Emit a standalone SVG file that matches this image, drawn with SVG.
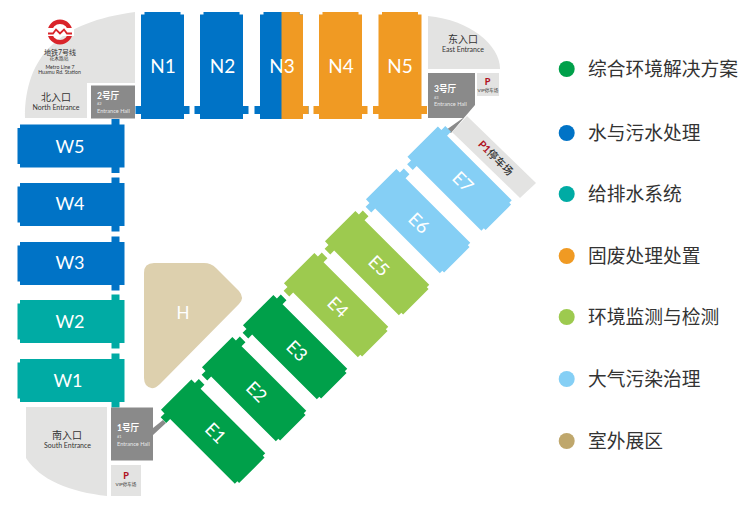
<svg xmlns="http://www.w3.org/2000/svg" width="750" height="509" viewBox="0 0 750 509">
<style>
text{font-family:"Lato","Noto Sans CJK SC",sans-serif;text-anchor:middle}
.lab{fill:#fff;font-size:18px;font-weight:400}
.g{fill:#00a04a}.b{fill:#0073c6}.t{fill:#00aba4}.o{fill:#f09a23}.l{fill:#9dca4f}.s{fill:#85cff5}.k{fill:#bfa76c}
.area{fill:#e3e3e2}.hall{fill:#8a8a8a}
.zh{fill:#333;font-size:10px}.en{fill:#333;font-size:7px}
.hz{fill:#fff;font-size:8.600px;font-weight:700;text-anchor:start}.he{fill:#e8e8e8;font-size:5.600px;text-anchor:start}
.leg{fill:#333;font-size:18.750px;text-anchor:start}
.p{fill:#b0121f;font-size:9px;font-weight:900}.vip{fill:#333;font-size:4.600px}
</style>
<defs>
<path id="hallShape" d="M-18-53.5H18V-51H21.5V40.5H27V48.5H21.5V53.5H-21.5V48.5H-27V40.5H-21.5V-51H-18Z"/>
<clipPath id="rightHalf"><rect x="281.5" y="0" width="40" height="130"/></clipPath>
</defs>
<g id="north-entrance">
<path class="area" d="M135 12V83H87V118H25C25 55 60 22 135 12Z"/>
<g id="metro-logo">
<circle cx="60" cy="32" r="10.300" fill="none" stroke="#d9242a" stroke-width="4.500"/>
<rect x="46" y="28" width="28" height="8" fill="#fff"/>
<path d="M48 33.500L53 33.500L56 29.500L60 33.500L64 29.500L67 33.500L72 33.500" fill="none" stroke="#d9242a" stroke-width="1.800"/>
</g>
<text x="60" y="54.500" style="font-size:7px" fill="#333">地铁7号线</text>
<text x="59" y="60" style="font-size:4.700px" fill="#333">花木路站</text>
<text x="60" y="68.500" style="font-size:5.200px" fill="#333">Metro Line 7</text>
<text x="59.500" y="74" style="font-size:5.200px" fill="#333">Huamu Rd. Station</text>
<text class="zh" x="56" y="101">北入口</text>
<text class="en" x="56" y="109.500">North Entrance</text>
</g>
<g id="hall-2">
<rect class="hall" x="91" y="85.500" width="44" height="33"/>
<text class="hz" x="97" y="99">2号厅</text>
<text class="he" x="97" y="105" style="font-size:4px">#2</text>
<text class="he" x="97" y="113">Entrance Hall</text>
</g>
<g id="N1" class="b"><use href="#hallShape" transform="translate(162.500 65.500)"/><text class="lab" style="font-size:19px" x="163" y="73">N1</text></g>
<g id="N2" class="b"><use href="#hallShape" transform="translate(221.500 65.500)"/><text class="lab" style="font-size:19px" x="222.500" y="73">N2</text></g>
<g id="N3"><use class="b" href="#hallShape" transform="translate(281.500 65.500)"/><g clip-path="url(#rightHalf)"><use class="o" href="#hallShape" transform="translate(281.500 65.500)"/></g><text class="lab" style="font-size:19px" x="282" y="73">N3</text></g>
<g id="N4" class="o"><use href="#hallShape" transform="translate(340.500 65.500)"/><text class="lab" style="font-size:19px" x="341" y="73">N4</text></g>
<g id="N5" class="o"><use href="#hallShape" transform="translate(400 65.500)"/><text class="lab" style="font-size:19px" x="400" y="73">N5</text></g>
<g id="east-entrance">
<path class="area" d="M428 16C470 20 500 45 500 69H428Z"/>
<text class="zh" x="463" y="43">东入口</text>
<text class="en" x="463" y="52">East Entrance</text>
</g>
<g id="hall-3">
<path class="hall" d="M428 73H475V105L451 133L446 130L463 118H428Z"/>
<text class="hz" x="434" y="92">3号厅</text>
<text class="he" x="434" y="98.500" style="font-size:4px">#3</text>
<text class="he" x="434" y="106">Entrance Hall</text>
</g>
<g id="vip-east">
<rect class="area" x="477" y="73" width="22" height="23"/>
<text class="p" x="487.500" y="85">P</text>
<text class="vip" x="488" y="91.500">VIP停车场</text>
</g>
<g id="parking-p1">
<path class="area" d="M467 116L536 183L520 198L452 132Z"/>
<text transform="translate(493 160.500) rotate(45)" style="font-size:10.500px;font-weight:500" fill="#333"><tspan fill="#b0121f" font-weight="700">P1</tspan>停车场</text>
</g>
<g id="W5" class="b"><use href="#hallShape" transform="translate(71 146) rotate(-90)"/><text class="lab" x="70" y="153">W5</text></g>
<g id="W4" class="b"><use href="#hallShape" transform="translate(71 204.500) rotate(-90)"/><text class="lab" x="70" y="210">W4</text></g>
<g id="W3" class="b"><use href="#hallShape" transform="translate(71 263.500) rotate(-90)"/><text class="lab" x="70" y="269">W3</text></g>
<g id="W2" class="t"><use href="#hallShape" transform="translate(71 321.500) rotate(-90)"/><text class="lab" x="70" y="328">W2</text></g>
<g id="W1" class="t"><use href="#hallShape" transform="translate(71 380.500) rotate(-90)"/><text class="lab" x="68" y="387">W1</text></g>
<g id="H">
<path fill="#ddd0ae" d="M144 273Q144 263 154 263H204Q211 263 216 268L239 291Q245 298 239 304L160 384Q152 392 146 385Q144 382 144 378Z"/>
<text class="lab" x="183" y="319" style="font-size:17px">H</text>
</g>
<g id="hall-1">
<path class="hall" d="M111 407.500H153V428L163 420L166 423L153 435V460.500H111Z"/>
<text class="hz" x="117" y="431">1号厅</text>
<text class="he" x="117" y="437.500" style="font-size:4px">#1</text>
<text class="he" x="117" y="446">Entrance Hall</text>
</g>
<g id="south-entrance">
<path class="area" d="M26 407H107V496C70 492 40 480 26 458Z"/>
<text class="zh" x="67" y="439">南入口</text>
<text class="en" x="67.500" y="448">South Entrance</text>
</g>
<g id="vip-south">
<rect class="area" x="111" y="465" width="30" height="31"/>
<text class="p" x="126" y="479">P</text>
<text class="vip" x="126" y="486">VIP停车场</text>
</g>
<g id="E1" class="g"><use href="#hallShape" transform="translate(214 432.500) rotate(135)"/><text class="lab" transform="translate(215.700 433) rotate(45)" y="6.500">E1</text></g>
<g id="E2" class="g"><use href="#hallShape" transform="translate(255 390) rotate(135)"/><text class="lab" transform="translate(256.700 391.700) rotate(45)" y="6.500">E2</text></g>
<g id="E3" class="g"><use href="#hallShape" transform="translate(296 348) rotate(135)"/><text class="lab" transform="translate(297 350.700) rotate(45)" y="6.500">E3</text></g>
<g id="E4" class="l"><use href="#hallShape" transform="translate(337 306) rotate(135)"/><text class="lab" transform="translate(338 307) rotate(45)" y="6.500">E4</text></g>
<g id="E5" class="l"><use href="#hallShape" transform="translate(378 264) rotate(135)"/><text class="lab" transform="translate(379 265.700) rotate(45)" y="6.500">E5</text></g>
<g id="E6" class="s"><use href="#hallShape" transform="translate(419 222) rotate(135)"/><text class="lab" transform="translate(419 223) rotate(45)" y="6.500">E6</text></g>
<g id="E7" class="s"><use href="#hallShape" transform="translate(460.500 179.500) rotate(135)"/><text class="lab" transform="translate(463 181.700) rotate(45)" y="6.500">E7</text></g>
<g id="legend">
<circle class="g" cx="566.700" cy="69" r="8"/><text class="leg" x="588" y="76">综合环境解决方案</text>
<circle class="b" cx="566.700" cy="133" r="8"/><text class="leg" x="588" y="140">水与污水处理</text>
<circle class="t" cx="566.700" cy="194" r="8"/><text class="leg" x="588" y="201">给排水系统</text>
<circle class="o" cx="566.700" cy="256" r="8"/><text class="leg" x="588" y="263">固废处理处置</text>
<circle class="l" cx="566.700" cy="317" r="8"/><text class="leg" x="588" y="324">环境监测与检测</text>
<circle class="s" cx="566.700" cy="379" r="8"/><text class="leg" x="588" y="386">大气污染治理</text>
<circle class="k" cx="566.700" cy="441" r="8"/><text class="leg" x="588" y="448">室外展区</text>
</g>
</svg>
